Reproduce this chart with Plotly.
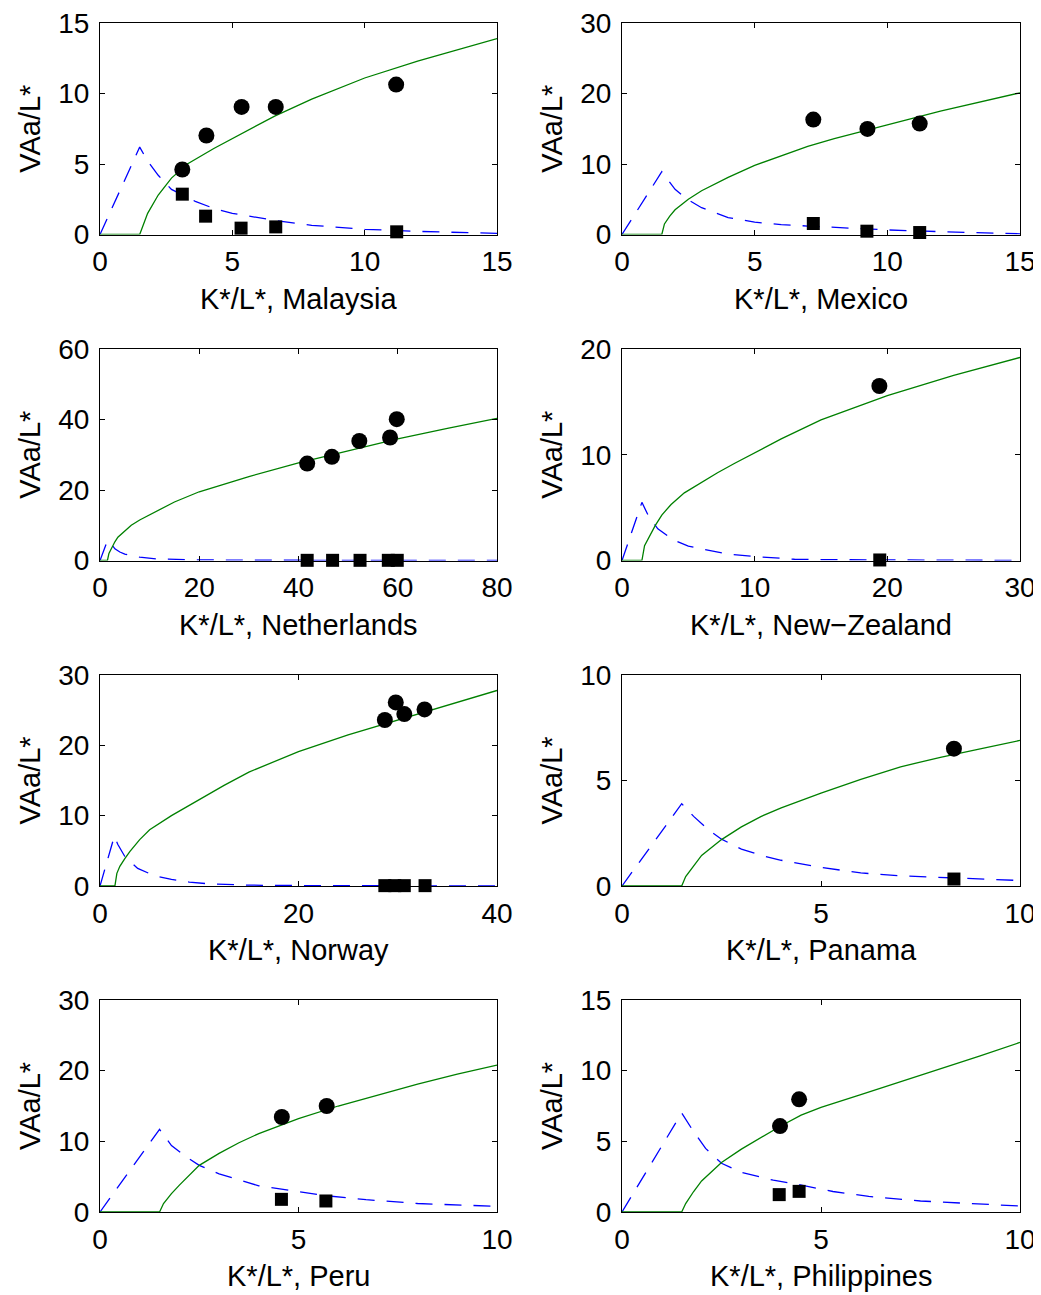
import plotly.graph_objects as go

# ---------------- data ----------------
panel_names = ["Malaysia", "Mexico", "Netherlands", "New\u2212Zealand",
               "Norway", "Panama", "Peru", "Philippines"]

x_ranges = [[0, 15], [0, 15], [0, 80], [0, 30], [0, 40], [0, 10], [0, 10], [0, 10]]
y_ranges = [[0, 15], [0, 30], [0, 60], [0, 20], [0, 30], [0, 10], [0, 30], [0, 15]]
x_ticks = [[0, 5, 10, 15], [0, 5, 10, 15], [0, 20, 40, 60, 80], [0, 10, 20, 30],
           [0, 20, 40], [0, 5, 10], [0, 5, 10], [0, 5, 10]]
y_ticks = [[0, 5, 10, 15], [0, 10, 20, 30], [0, 20, 40, 60], [0, 10, 20],
           [0, 10, 20, 30], [0, 5, 10], [0, 10, 20, 30], [0, 5, 10, 15]]

# Malaysia
malaysia_circle_x = [3.11, 4.02, 5.35, 6.64, 11.19]
malaysia_circle_y = [4.61, 7.02, 9.05, 9.05, 10.63]
malaysia_square_x = [3.11, 3.99, 5.33, 6.64, 11.21]
malaysia_square_y = [2.86, 1.30, 0.45, 0.54, 0.19]
malaysia_green_x = [0, 1.5, 1.8, 2.2, 2.7, 3.3, 4.3, 5.5, 6.6, 8, 10, 12, 15]
malaysia_green_y = [0, 0, 1.5, 2.8, 4.0, 5.0, 6.1, 7.3, 8.4, 9.6, 11.1, 12.3, 13.9]
malaysia_blue_x = [0, 1.5, 1.8, 2.2, 2.7, 3.6, 4.3, 5, 6.6, 8, 10, 12, 15]
malaysia_blue_y = [0, 6.2, 5.2, 4.2, 3.2, 2.35, 1.85, 1.5, 1.0, 0.65, 0.37, 0.22, 0.08]

# Mexico
mexico_circle_x = [7.21, 9.25, 11.22]
mexico_circle_y = [16.3, 14.97, 15.73]
mexico_square_x = [7.21, 9.23, 11.22]
mexico_square_y = [1.56, 0.47, 0.28]
mexico_green_x = [0, 1.5, 1.6, 1.8, 2, 2.5, 3, 4, 5, 6, 7, 8, 10, 12, 15]
mexico_green_y = [0, 0, 1.5, 2.6, 3.5, 5.0, 6.2, 8.1, 9.8, 11.2, 12.5, 13.6, 15.6, 17.5, 20.1]
mexico_blue_x = [0, 1.5, 2, 2.5, 3, 4, 5, 6, 7, 8, 10, 12, 15]
mexico_blue_y = [0, 8.9, 6.4, 4.9, 3.8, 2.4, 1.75, 1.4, 1.2, 1.0, 0.65, 0.4, 0.1]

# Netherlands
netherlands_circle_x = [41.75, 46.73, 52.26, 58.45, 59.8]
netherlands_circle_y = [27.5, 29.4, 33.9, 34.9, 40.1]
netherlands_square_x = [41.75, 46.87, 52.4, 58.1, 59.9]
netherlands_square_y = [0.05, 0.05, 0.05, 0.05, 0.05]
netherlands_green_x = [0, 1.5, 1.8, 2.3, 3, 3.6, 5, 6.3, 8, 10, 15, 20, 30, 40, 50, 60, 70, 80]
netherlands_green_y = [0, 0, 2.0, 3.5, 5.3, 6.6, 8.5, 10.0, 11.5, 13.0, 16.6, 19.5, 23.8, 27.7,
                       31.2, 34.5, 37.5, 40.3]
netherlands_blue_x = [0, 1.5, 2, 3, 4, 5, 6, 8, 11.4, 15, 20, 30, 40, 60, 80]
netherlands_blue_y = [0, 5.6, 5.2, 3.3, 2.4, 1.8, 1.45, 0.95, 0.45, 0.3, 0.18, 0.08, 0.05, 0.02, 0.01]

# New-Zealand
newzealand_circle_x = [19.4]
newzealand_circle_y = [16.5]
newzealand_square_x = [19.43]
newzealand_square_y = [0.05]
newzealand_green_x = [0, 1.5, 1.7, 2, 2.5, 3, 3.7, 4.7, 6, 7.2, 8.5, 10, 12, 15, 20, 25, 30]
newzealand_green_y = [0, 0, 1.4, 2.1, 3.3, 4.3, 5.3, 6.4, 7.4, 8.3, 9.2, 10.2, 11.5, 13.3,
                      15.6, 17.5, 19.2]
newzealand_blue_x = [0, 1.5, 2, 2.7, 3.8, 5, 6.2, 8, 10, 13, 15, 20, 25, 30]
newzealand_blue_y = [0, 5.5, 4.2, 3.0, 2.0, 1.35, 1.05, 0.6, 0.38, 0.12, 0.08, 0.04, 0.02, 0.01]

# Norway
norway_circle_x = [28.7, 29.8, 30.66, 32.7]
norway_circle_y = [23.6, 26.1, 24.45, 25.1]
norway_square_x = [28.7, 29.7, 30.66, 32.75]
norway_square_y = [0.05, 0.05, 0.05, 0.05]
norway_green_x = [0, 1.5, 1.7, 2, 2.5, 3, 4, 5, 7.2, 10, 12.5, 15, 20, 25, 30, 35, 40]
norway_green_y = [0, 0, 1.8, 2.8, 3.9, 4.9, 6.6, 8.0, 10.0, 12.3, 14.3, 16.2, 19.1, 21.5,
                  23.6, 25.8, 27.8]
norway_blue_x = [0, 1.45, 1.8, 2.5, 3.8, 5.5, 7.2, 9, 11, 15, 20, 30, 40]
norway_blue_y = [0, 7.1, 5.9, 4.2, 2.5, 1.45, 0.95, 0.55, 0.3, 0.12, 0.06, 0.02, 0.01]

# Panama
panama_circle_x = [8.34]
panama_circle_y = [6.51]
panama_square_x = [8.34]
panama_square_y = [0.33]
panama_green_x = [0, 1.5, 1.6, 1.8, 2, 2.5, 3, 3.5, 4, 5, 6, 7, 8, 9, 10]
panama_green_y = [0, 0, 0.45, 0.95, 1.45, 2.2, 2.8, 3.3, 3.7, 4.4, 5.05, 5.65, 6.1, 6.5, 6.9]
panama_blue_x = [0, 1.5, 1.8, 2.2, 2.5, 3, 3.5, 4, 5, 6, 7, 8, 9, 10]
panama_blue_y = [0, 3.9, 3.3, 2.62, 2.22, 1.75, 1.45, 1.22, 0.88, 0.62, 0.48, 0.4, 0.33, 0.26]

# Peru
peru_circle_x = [4.58, 5.71]
peru_circle_y = [13.44, 15.0]
peru_square_x = [4.57, 5.69]
peru_square_y = [1.79, 1.56]
peru_green_x = [0, 1.5, 1.6, 1.8, 2, 2.5, 3, 3.5, 4, 5, 6, 7, 8, 9, 10]
peru_green_y = [0, 0, 1.2, 2.6, 3.8, 6.6, 8.3, 9.8, 11.1, 13.2, 15.0, 16.6, 18.1, 19.5, 20.8]
peru_blue_x = [0, 1.5, 1.8, 2.2, 2.5, 3, 4, 4.6, 5.7, 6.7, 8, 10]
peru_blue_y = [0, 11.7, 9.4, 7.7, 6.6, 5.4, 3.7, 3.2, 2.3, 1.75, 1.2, 0.8]

# Philippines
philippines_circle_x = [3.97, 4.45]
philippines_circle_y = [6.08, 7.97]
philippines_square_x = [3.95, 4.45]
philippines_square_y = [1.23, 1.46]
philippines_green_x = [0, 1.5, 1.6, 1.8, 2, 2.5, 3, 3.5, 4, 4.5, 5, 6, 7, 8, 9, 10]
philippines_green_y = [0, 0, 0.6, 1.45, 2.2, 3.5, 4.45, 5.3, 6.1, 6.85, 7.4, 8.3, 9.2, 10.1,
                       11.05, 12.0]
philippines_blue_x = [0, 1.5, 1.75, 2.1, 2.5, 3, 3.8, 4.45, 5.3, 6.2, 7.5, 10]
philippines_blue_y = [0, 7.0, 5.9, 4.5, 3.45, 2.8, 2.25, 1.93, 1.45, 1.1, 0.78, 0.42]

panels = [
    (malaysia_circle_x, malaysia_circle_y, malaysia_square_x, malaysia_square_y,
     malaysia_green_x, malaysia_green_y, malaysia_blue_x, malaysia_blue_y),
    (mexico_circle_x, mexico_circle_y, mexico_square_x, mexico_square_y,
     mexico_green_x, mexico_green_y, mexico_blue_x, mexico_blue_y),
    (netherlands_circle_x, netherlands_circle_y, netherlands_square_x, netherlands_square_y,
     netherlands_green_x, netherlands_green_y, netherlands_blue_x, netherlands_blue_y),
    (newzealand_circle_x, newzealand_circle_y, newzealand_square_x, newzealand_square_y,
     newzealand_green_x, newzealand_green_y, newzealand_blue_x, newzealand_blue_y),
    (norway_circle_x, norway_circle_y, norway_square_x, norway_square_y,
     norway_green_x, norway_green_y, norway_blue_x, norway_blue_y),
    (panama_circle_x, panama_circle_y, panama_square_x, panama_square_y,
     panama_green_x, panama_green_y, panama_blue_x, panama_blue_y),
    (peru_circle_x, peru_circle_y, peru_square_x, peru_square_y,
     peru_green_x, peru_green_y, peru_blue_x, peru_blue_y),
    (philippines_circle_x, philippines_circle_y, philippines_square_x, philippines_square_y,
     philippines_green_x, philippines_green_y, philippines_blue_x, philippines_blue_y),
]

# ---------------- layout geometry (page pixels; body has an 8px margin) ----------------
PAGE_MARGIN = 8
W, H = 1041 - PAGE_MARGIN, 1295 - PAGE_MARGIN
col_px = [(100, 497), (622, 1020)]
row_px = [(23, 234.5), (349, 560.5), (675, 886), (1000, 1212)]

FONT = "Liberation Sans, Arial, Helvetica, sans-serif"
FS = 28
FS_TITLE = 29

fig = go.Figure()
layout_axes = {}
annotations = []

for i, name in enumerate(panel_names):
    r, c = divmod(i, 2)
    k = i + 1
    xa = "x" if k == 1 else f"x{k}"
    ya = "y" if k == 1 else f"y{k}"
    cx, cy, sx, sy, gx, gy, bx, by = panels[i]

    fig.add_trace(go.Scatter(x=bx, y=by, xaxis=xa, yaxis=ya, mode="lines",
                             line=dict(color="rgb(0,0,255)", width=1.3, dash="17px,12px"),
                             showlegend=False, hoverinfo="skip"))
    fig.add_trace(go.Scatter(x=gx, y=gy, xaxis=xa, yaxis=ya, mode="lines",
                             line=dict(color="rgb(0,128,0)", width=1.3),
                             showlegend=False, hoverinfo="skip"))
    fig.add_trace(go.Scatter(x=cx, y=cy, xaxis=xa, yaxis=ya, mode="markers",
                             marker=dict(symbol="circle", size=16, color="black"),
                             cliponaxis=False, showlegend=False))
    fig.add_trace(go.Scatter(x=sx, y=sy, xaxis=xa, yaxis=ya, mode="markers",
                             marker=dict(symbol="square", size=13, color="black"),
                             cliponaxis=False, showlegend=False))

    x0, x1 = [v - PAGE_MARGIN for v in col_px[c]]
    y0, y1 = [v - PAGE_MARGIN for v in row_px[r]]
    common = dict(showline=True, linecolor="black", linewidth=1, mirror="ticks",
                  ticks="inside", ticklen=5, tickwidth=1, tickcolor="black",
                  showgrid=False, zeroline=False, fixedrange=True, automargin=False,
                  ticklabeloverflow="allow",
                  tickfont=dict(family=FONT, size=FS, color="black"))
    layout_axes["xaxis" if k == 1 else f"xaxis{k}"] = dict(
        domain=[x0 / W, x1 / W], anchor=ya, range=x_ranges[i],
        tickmode="array", tickvals=x_ticks[i], ticklabelstandoff=2, **common)
    layout_axes["yaxis" if k == 1 else f"yaxis{k}"] = dict(
        domain=[1 - y1 / H, 1 - y0 / H], anchor=xa, range=y_ranges[i],
        tickmode="array", tickvals=y_ticks[i], ticklabelstandoff=4, **common)

    annotations.append(dict(text=f"K*/L*, {name}", xref=f"{xa} domain", yref=f"{ya} domain",
                            x=0.5, y=0, yshift=-64, xanchor="center", yanchor="middle",
                            showarrow=False, font=dict(family=FONT, size=FS_TITLE, color="black")))
    annotations.append(dict(text="VAa/L*", xref=f"{xa} domain", yref=f"{ya} domain",
                            x=0, y=0.5, xshift=-70, xanchor="center", yanchor="middle",
                            textangle=-90, showarrow=False,
                            font=dict(family=FONT, size=FS_TITLE, color="black")))

fig.update_layout(width=W, height=H, margin=dict(l=0, r=0, t=0, b=0, autoexpand=False),
                  paper_bgcolor="white", plot_bgcolor="white",
                  annotations=annotations, showlegend=False, **layout_axes)

fig.write_html("out.html")
